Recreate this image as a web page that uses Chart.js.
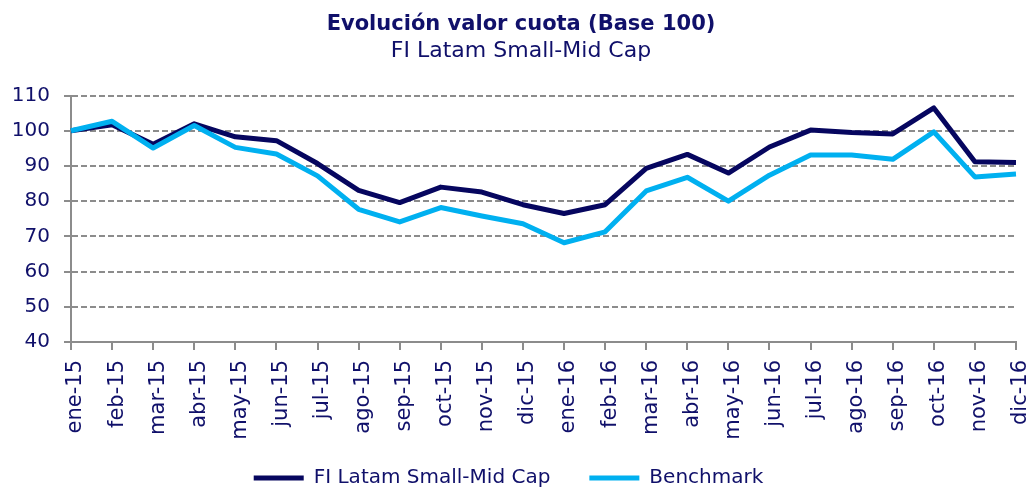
<!DOCTYPE html>
<html>
<head>
<meta charset="utf-8">
<script src="https://cdn.jsdelivr.net/npm/chart.js@4/dist/chart.umd.min.js"></script>
<style>
  html, body { margin: 0; padding: 0; background: #ffffff; }
  #wrap { width: 1029px; height: 489px; position: relative; }
</style>
</head>
<body>
<div id="wrap"><canvas id="c" width="1029" height="489"></canvas></div>
<script>
const categories = ["ene-15","feb-15","mar-15","abr-15","may-15","jun-15","jul-15","ago-15","sep-15","oct-15","nov-15","dic-15",
                    "ene-16","feb-16","mar-16","abr-16","may-16","jun-16","jul-16","ago-16","sep-16","oct-16","nov-16","dic-16"];
const fundValues = [100, 101.7, 96.2, 102.0, 98.3, 97.2, 90.7, 83.1, 79.6, 84.0, 82.6, 79.0,
                    76.5, 79.0, 89.3, 93.3, 88.0, 95.4, 100.2, 99.5, 99.1, 106.5, 91.2, 91.0];
const benchmarkValues = [100, 102.7, 95.1, 101.5, 95.3, 93.4, 87.2, 77.7, 74.1, 78.2, 75.8, 73.6,
                         68.2, 71.3, 82.9, 86.8, 80.0, 87.4, 93.1, 93.1, 91.9, 99.7, 86.9, 87.7];
const seriesNames = ["FI Latam Small-Mid Cap", "Benchmark"];
const titleText = "Evolución valor cuota (Base 100)";
const subtitleText = "FI Latam Small-Mid Cap";
const yMin = 40, yMax = 110, yStep = 10;

const textColor = "#10106a";
const gridColor = "#8c8c8c";
const FONT = "'DejaVu Sans', Verdana, sans-serif";

const layoutTweaks = {
  id: "layoutTweaks",
  afterLayout(chart) {
    if (chart.legend) { chart.legend.left = 0; chart.legend.right = 1017; }
    if (chart.scales.x) { chart.scales.x.bottom = chart.height; }
  }
};

new Chart(document.getElementById("c"), {
  type: "line",
  data: {
    labels: categories,
    datasets: [
      { label: seriesNames[0], data: fundValues, borderColor: "#06065f", backgroundColor: "#06065f",
        borderWidth: 5, pointRadius: 0, tension: 0, borderJoinStyle: "round", order: 1 },
      { label: seriesNames[1], data: benchmarkValues, borderColor: "#00b0f0", backgroundColor: "#00b0f0",
        borderWidth: 5, pointRadius: 0, tension: 0, borderJoinStyle: "round", order: 0 }
    ]
  },
  plugins: [layoutTweaks],
  options: {
    responsive: false,
    animation: false,
    layout: { padding: { left: 13, right: 0, top: 0, bottom: 0 } },
    plugins: {
      tooltip: { enabled: false },
      title: {
        display: true, text: titleText, color: textColor,
        font: { family: FONT, size: 21, weight: "bold" },
        padding: { top: 12, bottom: 0 }
      },
      subtitle: {
        display: true, text: subtitleText, color: textColor,
        font: { family: FONT, size: 22, weight: "normal" },
        padding: { top: 1, bottom: 31 }
      },
      legend: {
        position: "bottom",
        maxHeight: 60,
        labels: {
          color: textColor,
          font: { family: FONT, size: 20 },
          boxWidth: 50, boxHeight: 5,
          padding: 39,
          sort: (a, b) => a.datasetIndex - b.datasetIndex,
          generateLabels: (chart) => chart.data.datasets.map((ds, i) => ({
            text: ds.label, fillStyle: ds.borderColor, strokeStyle: ds.borderColor,
            lineWidth: 0, hidden: false, datasetIndex: i, fontColor: textColor
          }))
        }
      }
    },
    scales: {
      x: {
        offset: false,
        grid: { drawOnChartArea: false, drawTicks: true, tickLength: 8, color: gridColor, lineWidth: 2 },
        border: { display: true, color: gridColor, width: 2 },
        ticks: {
          color: textColor, font: { family: FONT, size: 21 },
          minRotation: 90, maxRotation: 90, autoSkip: false, padding: 10, labelOffset: 5
        },
        afterFit: (s) => { s.height = 87; s.paddingLeft = 0; s.paddingRight = 13; }
      },
      y: {
        min: yMin, max: yMax,
        grid: { color: gridColor, lineWidth: 2, tickLength: 7, drawTicks: true },
        border: { display: true, color: gridColor, width: 2, dash: [6, 3] },
        ticks: { stepSize: yStep, color: textColor, font: { family: FONT, size: 20 }, padding: 14 },
        afterFit: (s) => { s.width = 58; }
      }
    }
  }
});
</script>
</body>
</html>
